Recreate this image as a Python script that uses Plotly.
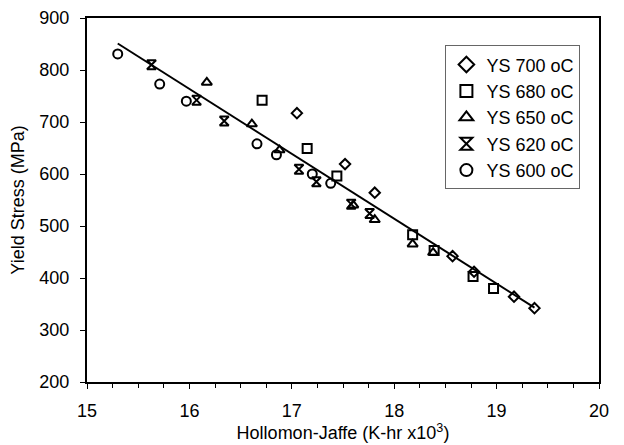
import plotly.graph_objects as go

# Hollomon-Jaffe parameter (K-hr x10^3) and yield stress (MPa) per tempering temperature
hj_700 = [17.05, 17.52, 17.81, 18.57, 18.78, 19.17, 19.37]
ys_700 = [717, 619, 564, 442, 412, 364, 342]

hj_680 = [16.71, 17.15, 17.44, 18.18, 18.39, 18.77, 18.97]
ys_680 = [742, 649, 596, 483, 453, 403, 380]

hj_650 = [16.17, 16.61, 16.88, 17.60, 17.81, 18.18, 18.38]
ys_650 = [776, 696, 646, 540, 512, 465, 449]

hj_620 = [15.63, 16.07, 16.34, 17.07, 17.24, 17.58, 17.76]
ys_620 = [810, 742, 702, 609, 585, 542, 524]

hj_600 = [15.30, 15.71, 15.97, 16.66, 16.85, 17.20, 17.38]
ys_600 = [831, 773, 740, 658, 637, 600, 582]

# Linear trend line end points
trend_x = [15.30, 19.37]
trend_y = [851, 343]

FONT = "Arial, Liberation Sans, sans-serif"

fig = go.Figure()

fig.add_trace(go.Scatter(x=trend_x, y=trend_y, mode="lines",
                         line=dict(color="black", width=2), showlegend=False,
                         hoverinfo="skip"))

series = [
    ("YS 700 oC", hj_700, ys_700, "diamond-open", 8),
    ("YS 680 oC", hj_680, ys_680, "square-open", 9),
    ("YS 650 oC", hj_650, ys_650, "triangle-up-open", 9),
    ("YS 620 oC", hj_620, ys_620, "hourglass-open", 9),
    ("YS 600 oC", hj_600, ys_600, "circle-open", 9),
]
for name, xs, ys, sym, sz in series:
    fig.add_trace(go.Scatter(
        x=xs, y=ys, mode="markers", name=name,
        marker=dict(symbol=sym, size=sz, color="black",
                    line=dict(color="black", width=2)),
    ))

fig.update_layout(
    width=624, height=445,
    margin=dict(l=87, r=25, t=18, b=63),
    paper_bgcolor="white", plot_bgcolor="white",
    font=dict(family=FONT, size=18, color="black"),
    legend=dict(
        x=0.70, y=0.925, xanchor="left", yanchor="top",
        bgcolor="white", bordercolor="#666", borderwidth=1,
        font=dict(family=FONT, size=18, color="black"),
        itemsizing="constant", itemwidth=30,
    ),
    xaxis=dict(
        range=[15, 20], dtick=1, tick0=15,
        showgrid=False, zeroline=False, automargin=False,
        showline=True, linecolor="black", linewidth=2, mirror=True,
        ticks="outside", ticklen=5, tickcolor="black",
        ticklabelstandoff=6,
        minor=dict(dtick=0.25, ticks="outside", ticklen=4, tickcolor="black"),
        title=dict(text="Hollomon-Jaffe (K-hr x10<sup>3</sup>)", standoff=4,
                   font=dict(family=FONT, size=18)),
        tickfont=dict(family=FONT, size=18),
    ),
    yaxis=dict(
        range=[200, 900], dtick=100,
        showgrid=False, zeroline=False, automargin=False,
        showline=True, linecolor="black", linewidth=2, mirror=True,
        ticks="outside", ticklen=5, tickcolor="black",
        ticklabelstandoff=7,
        title=dict(text="Yield Stress (MPa)", standoff=10,
                   font=dict(family=FONT, size=18)),
        tickfont=dict(family=FONT, size=18),
    ),
)

fig.write_html("out.html")
